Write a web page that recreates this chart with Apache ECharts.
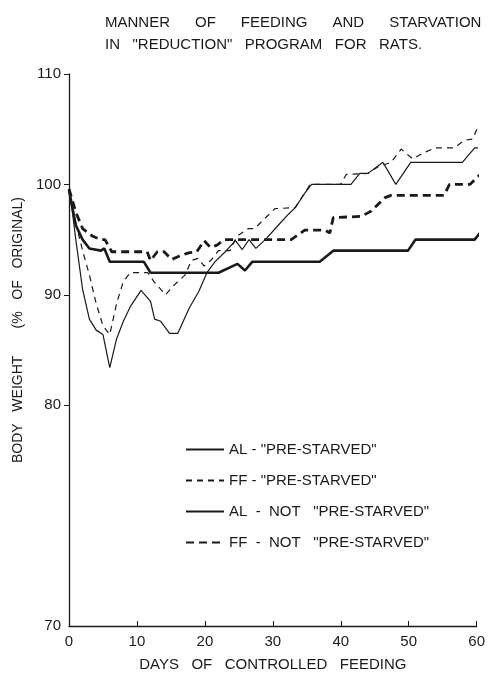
<!DOCTYPE html>
<html>
<head>
<meta charset="utf-8">
<script src="https://cdn.jsdelivr.net/npm/echarts@6/dist/echarts.min.js"></script>
<style>
  html, body { margin: 0; padding: 0; background: #fff; }
  #chart { width: 488px; height: 677px; }
</style>
</head>
<body>
<div id="chart"></div>
<script>
// ---- data ----
const titleLines = ['MANNER      OF      FEEDING      AND      STARVATION', 'IN   "REDUCTION"   PROGRAM   FOR   RATS.'];
const xTicks = [0, 10, 20, 30, 40, 50, 60];
// The reference's value axis is broken: its bottom edge is labelled 70 but sits
// one extra division below 80. Ticks/labels below reproduce that look.
const yTickValues = [80, 90, 100, 110];
const yAxisBottom = 60;          // position of the bottom edge on the linear scale
const yBottomLabel = '70';       // text written at the bottom edge in the reference
const seriesNames = ['AL - "PRE-STARVED"', 'FF - "PRE-STARVED"', 'AL  -  NOT   "PRE-STARVED"', 'FF  -  NOT   "PRE-STARVED"'];

const alPreDays = [0, 0.5, 1, 2, 3, 4, 5, 6, 7, 8, 9, 10.6, 12, 12.6, 13.5, 14.8, 16, 17.7, 19.1, 20.3, 21.5, 23, 24.5, 25.5, 26.5, 27.5, 28.9, 30.8, 32.3, 33.3, 34.7, 35.7, 41.5, 42.8, 44, 46.2, 48.1, 50.3, 57.9, 59.7, 61.3];
const alPreVals = [99.6, 97.5, 95, 90.5, 87.8, 86.8, 86.4, 83.4, 86.0, 87.6, 88.9, 90.4, 89.4, 87.8, 87.6, 86.5, 86.5, 88.8, 90.3, 92.0, 93.0, 93.9, 94.9, 94.1, 95.0, 94.2, 95.0, 96.3, 97.3, 97.9, 99.2, 100, 100, 101, 101, 102, 100, 102, 102, 103.3, 103.3];

const ffPreDays = [0, 1, 2, 3, 4, 5, 6, 7, 8, 9, 11.6, 12.5, 14.2, 15.5, 17.1, 18, 19, 19.9, 21, 22, 23.7, 24.7, 26.4, 27.3, 30.3, 33.3, 35.5, 40, 40.8, 44, 45.5, 47.4, 48.9, 50.6, 52, 53.8, 56.7, 58.2, 59.4, 60.1, 61.1];
const ffPreVals = [99.5, 96.5, 94, 91.8, 89.2, 87.2, 86.4, 89.2, 91.2, 92, 92, 91.2, 90, 90.9, 91.8, 93.1, 93.3, 92.6, 93.2, 94, 94, 95.3, 96, 96, 97.8, 97.9, 100, 100, 100.9, 101, 101.6, 102, 103.2, 102.3, 102.8, 103.3, 103.3, 104, 104.1, 105.1, 105.2];

const alNotDays = [0, 1, 2, 3, 4.7, 5.2, 6, 11, 12, 22, 24.8, 25.9, 27, 36.9, 38.9, 49.9, 51, 59.7, 61];
const alNotVals = [99.5, 96.3, 95, 94.2, 94, 94.2, 93, 93, 92, 92, 92.8, 92.2, 93, 93, 94, 94, 95, 95, 96];

const ffNotDays = [0, 1, 2, 3.5, 4.7, 5.3, 6.3, 11.5, 12, 13, 14, 15.1, 16.2, 17.6, 18.8, 19.9, 20.8, 21.8, 22.8, 32.7, 34.7, 37.7, 38.4, 38.9, 43, 44.5, 46.5, 47.4, 55.2, 56, 59, 60, 61.3];
const ffNotVals = [99.6, 97.5, 96, 95.3, 95, 95, 93.9, 93.9, 93.1, 93.9, 93.9, 93.2, 93.5, 93.8, 93.9, 94.9, 94.3, 94.5, 95.0, 95.0, 95.85, 95.85, 95.6, 97.0, 97.1, 97.6, 98.8, 99.0, 99.0, 100, 100, 100.6, 101.3];

// ---- chart ----
const zip = (xs, ys) => xs.map((x, i) => [x, ys[i]]);
const FONT = 'Liberation Sans';
const INK = '#1a1a1a';

const styles = [
  { width: 1.2, type: 'solid' },
  { width: 1.2, type: [6, 5] },
  { width: 2.6, type: 'solid' },
  { width: 2.8, type: [8, 5] }
];
const datasets = [zip(alPreDays, alPreVals), zip(ffPreDays, ffPreVals), zip(alNotDays, alNotVals), zip(ffNotDays, ffNotVals)];

const chart = echarts.init(document.getElementById('chart'), null, { renderer: 'canvas' });
chart.setOption({
  backgroundColor: '#fff',
  animation: false,
  title: {
    text: titleLines.join('\n'),
    left: 100, top: 7,
    textStyle: { fontFamily: FONT, fontSize: 15, fontWeight: 'normal', color: INK, lineHeight: 22 }
  },
  legend: {
    orient: 'vertical',
    left: 180, top: 437,
    itemWidth: 38, itemHeight: 14, itemGap: 16,
    data: seriesNames,
    itemStyle: { opacity: 0 },
    textStyle: { fontFamily: FONT, fontSize: 15, color: INK }
  },
  grid: { left: 69, right: 11, top: 74, bottom: 49 },
  xAxis: {
    type: 'value', min: xTicks[0], max: xTicks[xTicks.length - 1], interval: 10,
    name: 'DAYS   OF   CONTROLLED   FEEDING',
    nameLocation: 'middle', nameGap: 31,
    nameTextStyle: { fontFamily: FONT, fontSize: 15, color: INK },
    axisLine: { lineStyle: { color: INK, width: 1.3 } },
    axisTick: { inside: true, length: 5, lineStyle: { color: INK } },
    axisLabel: { fontFamily: FONT, fontSize: 15, color: INK, margin: 8 },
    splitLine: { show: false }
  },
  yAxis: {
    type: 'value', min: yAxisBottom, max: yTickValues[yTickValues.length - 1], interval: 10,
    name: 'BODY   WEIGHT       (%   OF   ORIGINAL)',
    nameLocation: 'middle', nameGap: 40, nameRotate: 90,
    nameTextStyle: { fontFamily: FONT, fontSize: 14, color: INK, padding: [0, 0, 0, 40] },
    axisLine: { show: true, lineStyle: { color: INK, width: 1.3 } },
    axisTick: { show: true, inside: false, length: 5, lineStyle: { color: INK }, customValues: yTickValues },
    axisLabel: {
      fontFamily: FONT, fontSize: 15, color: INK, margin: 8,
      customValues: [yAxisBottom].concat(yTickValues),
      formatter: v => (v === yAxisBottom ? yBottomLabel : String(v))
    },
    splitLine: { show: false }
  },
  series: seriesNames.map((name, i) => ({
    name,
    type: 'line',
    data: datasets[i],
    showSymbol: false,
    symbol: 'none',
    clip: false,
    color: INK,
    lineStyle: { color: INK, width: styles[i].width, type: styles[i].type },
    z: 2 + i
  }))
});
</script>
</body>
</html>
